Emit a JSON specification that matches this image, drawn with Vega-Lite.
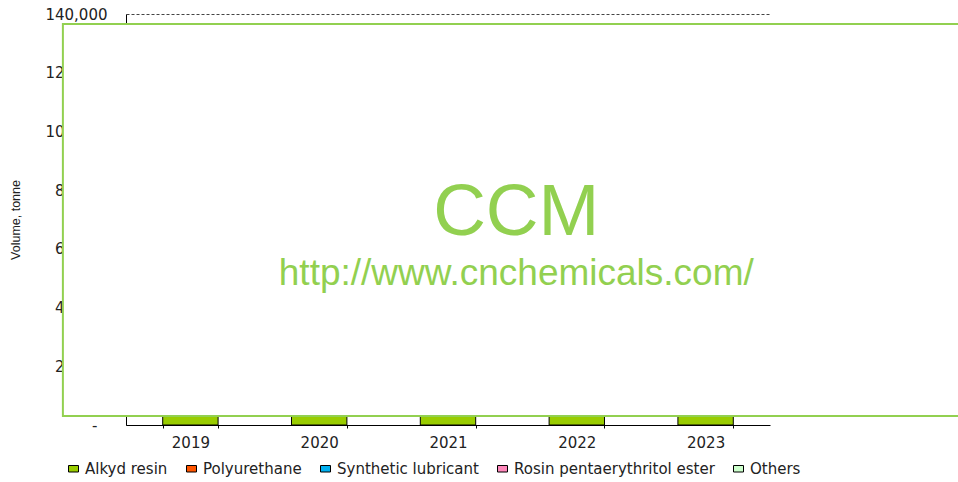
{
  "$schema": "https://vega.github.io/schema/vega-lite/v6.json",
  "autosize": {"type": "none"},
  "padding": {"left": 126, "top": 14, "right": 188, "bottom": 57},
  "width": 644,
  "height": 411,
  "background": "white",
  "config": {"view": {"stroke": null}},
  "datasets": {
    "volumes": [
      {"year": "2019", "product": "Alkyd resin", "volume": 55000},
      {"year": "2019", "product": "Polyurethane", "volume": 25000},
      {"year": "2019", "product": "Synthetic lubricant", "volume": 15000},
      {"year": "2019", "product": "Rosin pentaerythritol ester", "volume": 10000},
      {"year": "2019", "product": "Others", "volume": 12000},
      {"year": "2020", "product": "Alkyd resin", "volume": 52000},
      {"year": "2020", "product": "Polyurethane", "volume": 24000},
      {"year": "2020", "product": "Synthetic lubricant", "volume": 14500},
      {"year": "2020", "product": "Rosin pentaerythritol ester", "volume": 9500},
      {"year": "2020", "product": "Others", "volume": 11500},
      {"year": "2021", "product": "Alkyd resin", "volume": 56000},
      {"year": "2021", "product": "Polyurethane", "volume": 26000},
      {"year": "2021", "product": "Synthetic lubricant", "volume": 16000},
      {"year": "2021", "product": "Rosin pentaerythritol ester", "volume": 10000},
      {"year": "2021", "product": "Others", "volume": 12500},
      {"year": "2022", "product": "Alkyd resin", "volume": 58000},
      {"year": "2022", "product": "Polyurethane", "volume": 27000},
      {"year": "2022", "product": "Synthetic lubricant", "volume": 16500},
      {"year": "2022", "product": "Rosin pentaerythritol ester", "volume": 10500},
      {"year": "2022", "product": "Others", "volume": 13000},
      {"year": "2023", "product": "Alkyd resin", "volume": 60000},
      {"year": "2023", "product": "Polyurethane", "volume": 28000},
      {"year": "2023", "product": "Synthetic lubricant", "volume": 17000},
      {"year": "2023", "product": "Rosin pentaerythritol ester", "volume": 11000},
      {"year": "2023", "product": "Others", "volume": 13500}
    ],
    "box": [{"x": 2018.01, "x2": 2025.4, "y": 3070, "y2": 136600}],
    "mark1": [{"label": "CCM", "x": 2021.53, "y": 64700}],
    "mark2": [{"label": "http://www.cnchemicals.com/", "x": 2021.53, "y": 47800}]
  },
  "resolve": {"scale": {"x": "independent"}, "axis": {"x": "independent"}},
  "layer": [
    {
      "data": {"name": "volumes"},
      "mark": {"type": "bar", "stroke": "#000000", "strokeWidth": 1},
      "encoding": {
        "x": {
          "field": "year", "type": "nominal",
          "scale": {"paddingInner": 0.57, "paddingOuter": 0.285},
          "axis": {
            "title": null, "labelAngle": 0, "tickBand": "extent", "tickSize": 3,
            "tickColor": "#000000", "domainColor": "#000000",
            "labelFont": "DejaVu Sans", "labelFontSize": 15, "labelColor": "#222222",
            "labelPadding": 7
          }
        },
        "y": {
          "field": "volume", "type": "quantitative", "aggregate": "sum", "stack": "zero",
          "scale": {"domain": [0, 140000], "nice": false},
          "axis": {
            "title": "Volume, tonne", "titleFont": "Liberation Sans", "titleFontSize": 12.5,
            "titleFontWeight": "normal", "titleColor": "#222222", "titlePadding": 22,
            "values": [0, 20000, 40000, 60000, 80000, 100000, 120000, 140000],
            "labelExpr": "datum.value == 0 ? '-' : format(datum.value, ',')",
            "labelFont": "DejaVu Sans", "labelFontSize": 15, "labelColor": "#222222",
            "ticks": false,
            "labelPadding": {"condition": {"test": "datum.value == 0", "value": 29}, "value": 19},
            "domainColor": "#000000",
            "grid": true, "gridDash": [3, 2], "gridColor": "#444444"
          }
        },
        "order": {"field": "product", "sort": "ascending"},
        "color": {
          "field": "product", "type": "nominal",
          "scale": {
            "domain": ["Alkyd resin", "Polyurethane", "Synthetic lubricant", "Rosin pentaerythritol ester", "Others"],
            "range": ["#99CC00", "#FF5500", "#00B0F0", "#FF88BB", "#CCFFCC"]
          },
          "legend": {
            "title": null, "orient": "none", "direction": "horizontal",
            "legendX": -60, "legendY": 447,
            "symbolType": "M-1,-0.65H1V0.65H-1Z", "symbolSize": 100,
            "symbolStrokeColor": "#000000", "symbolStrokeWidth": 1,
            "labelFont": "DejaVu Sans", "labelFontSize": 15, "labelColor": "#222222",
            "labelOffset": 4, "columnPadding": 16, "labelLimit": 400
          }
        }
      }
    },
    {
      "data": {"name": "box"},
      "mark": {"type": "rect", "fill": "#ffffff", "stroke": "#92D050", "strokeWidth": 2, "clip": false},
      "encoding": {
        "x": {"field": "x", "type": "quantitative", "scale": {"domain": [2018.5, 2023.5], "nice": false, "zero": false}, "axis": null},
        "x2": {"field": "x2"},
        "y": {"field": "y", "type": "quantitative"},
        "y2": {"field": "y2"}
      }
    },
    {
      "data": {"name": "mark1"},
      "mark": {"type": "text", "font": "Liberation Sans", "fontSize": 73, "color": "#92D050", "align": "center", "baseline": "alphabetic"},
      "encoding": {
        "x": {"field": "x", "type": "quantitative", "scale": {"domain": [2018.5, 2023.5], "nice": false, "zero": false}, "axis": null},
        "y": {"field": "y", "type": "quantitative"},
        "text": {"field": "label"}
      }
    },
    {
      "data": {"name": "mark2"},
      "mark": {"type": "text", "font": "Liberation Sans", "fontSize": 37, "color": "#92D050", "align": "center", "baseline": "alphabetic"},
      "encoding": {
        "x": {"field": "x", "type": "quantitative", "scale": {"domain": [2018.5, 2023.5], "nice": false, "zero": false}, "axis": null},
        "y": {"field": "y", "type": "quantitative"},
        "text": {"field": "label"}
      }
    }
  ]
}
